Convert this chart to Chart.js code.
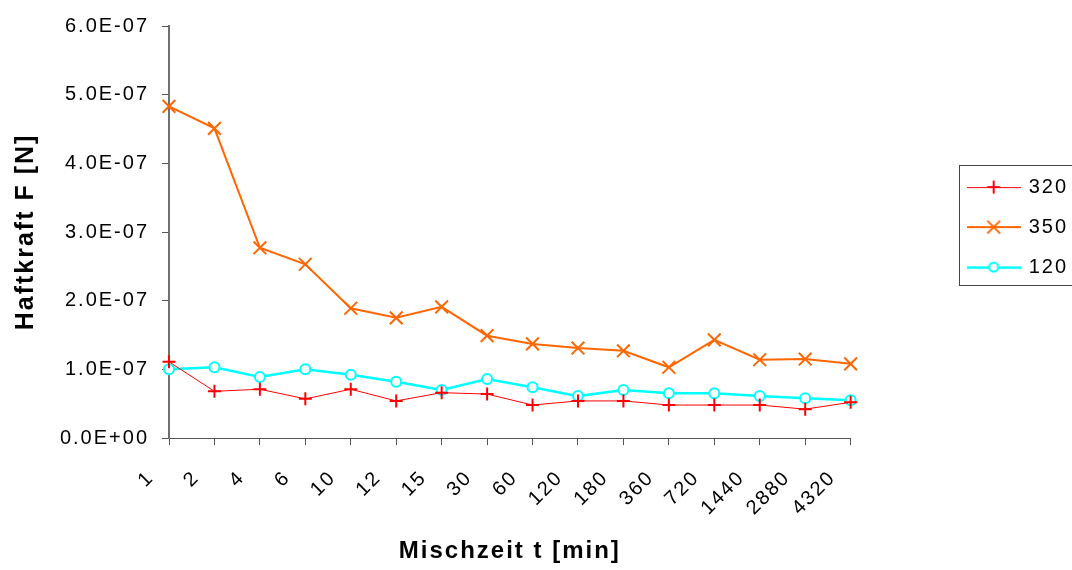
<!DOCTYPE html>
<html>
<head>
<meta charset="utf-8">
<script src="https://cdn.jsdelivr.net/npm/chart.js@4/dist/chart.umd.min.js"></script>
<style>
  html, body { margin: 0; padding: 0; background: #fff; }
  #wrap { width: 1072px; height: 570px; }
</style>
</head>
<body>
<div id="wrap"><canvas id="chart" width="1072" height="570"></canvas></div>
<script>
// Mixing time categories [min]
const categories = ['1', '2', '4', '6', '10', '12', '15', '30', '60', '120', '180', '360', '720', '1440', '2880', '4320'];

// Adhesion force F [N] per series
const haftkraft320 = [1.11e-7, 0.68e-7, 0.71e-7, 0.57e-7, 0.71e-7, 0.54e-7, 0.66e-7, 0.64e-7, 0.48e-7, 0.54e-7, 0.54e-7, 0.48e-7, 0.48e-7, 0.48e-7, 0.42e-7, 0.52e-7];
const haftkraft350 = [4.83e-7, 4.51e-7, 2.77e-7, 2.53e-7, 1.89e-7, 1.75e-7, 1.91e-7, 1.49e-7, 1.37e-7, 1.31e-7, 1.27e-7, 1.03e-7, 1.43e-7, 1.14e-7, 1.15e-7, 1.08e-7];
const haftkraft120 = [1.00e-7, 1.03e-7, 0.89e-7, 1.00e-7, 0.92e-7, 0.82e-7, 0.70e-7, 0.86e-7, 0.74e-7, 0.61e-7, 0.70e-7, 0.65e-7, 0.65e-7, 0.61e-7, 0.58e-7, 0.55e-7];
const seriesNames = ['320', '350', '120'];

// Y axis range
const yMin = 0;
const yMax = 6e-7;
const yStep = 1e-7;

const FONT = "'Liberation Sans', Arial, Helvetica, sans-serif";
const AXIS_COLOR = '#555555';

// Excel-like scientific notation: 6.0E-07, 0.0E+00
function sci(v) {
  const parts = Number(v).toExponential(1).split('e');
  const sign = parts[1][0] === '-' ? '-' : '+';
  const digits = parts[1].replace(/[+-]/, '');
  return parts[0] + 'E' + sign + digits.padStart(2, '0');
}

// Small legend samples: line with marker in the middle
function legendIcon(color, lineWidth, style, r, fill) {
  const c = document.createElement('canvas');
  c.width = 54; c.height = 20;
  const g = c.getContext('2d');
  const cx = 27, cy = 10;
  // odd widths sit on a half pixel so they stay crisp
  const ly = (Math.round(lineWidth) % 2 === 1) ? cy + 0.5 : cy;
  g.strokeStyle = color;
  g.lineWidth = lineWidth;
  g.beginPath(); g.moveTo(0, ly); g.lineTo(54, ly); g.stroke();
  g.lineWidth = 2;
  g.beginPath();
  if (style === 'cross') {
    g.moveTo(cx - r, cy); g.lineTo(cx + r, cy);
    g.moveTo(cx, cy - r); g.lineTo(cx, cy + r);
    g.stroke();
  } else if (style === 'crossRot') {
    const d = r * Math.SQRT1_2;
    g.moveTo(cx - d, cy - d); g.lineTo(cx + d, cy + d);
    g.moveTo(cx + d, cy - d); g.lineTo(cx - d, cy + d);
    g.stroke();
  } else {
    g.arc(cx, cy, r, 0, Math.PI * 2);
    g.fillStyle = fill;
    g.fill();
    g.stroke();
  }
  return c;
}

const legendIcons = [
  legendIcon('#FF0000', 1, 'cross', 6.5),
  legendIcon('#FF6600', 2, 'crossRot', 9),
  legendIcon('#00FFFF', 2.5, 'circle', 4.5, '#ffffff')
];

// Slightly spaced lettering for all chart text
const letterSpacingPlugin = {
  id: 'letterSpacing',
  beforeUpdate(chart) { chart.ctx.letterSpacing = '2px'; },
  beforeDraw(chart) { chart.ctx.letterSpacing = '2px'; }
};

// Frame around the legend (open to the right edge)
const legendFramePlugin = {
  id: 'legendFrame',
  afterDraw(chart) {
    const boxes = chart.legend && chart.legend.legendHitBoxes;
    if (!boxes || !boxes.length) return;
    const first = boxes[0], last = boxes[boxes.length - 1];
    const left = Math.round(first.left - 10) + 0.5;
    const top = Math.round(first.top + first.height / 2 - 22) + 0.5;
    const bottom = Math.round(last.top + last.height / 2 + 18) + 0.5;
    const ctx = chart.ctx;
    ctx.save();
    ctx.strokeStyle = '#444444';
    ctx.lineWidth = 1;
    ctx.strokeRect(left, top, chart.width + 20 - left, bottom - top);
    ctx.restore();
  }
};

new Chart(document.getElementById('chart'), {
  type: 'line',
  data: {
    labels: categories,
    datasets: [
      {
        label: seriesNames[0],
        data: haftkraft320,
        borderColor: '#FF0000',
        backgroundColor: '#FF0000',
        borderWidth: 1,
        pointStyle: 'cross',
        pointRadius: 6.5,
        pointBorderWidth: 2,
        pointBorderColor: '#FF0000',
        tension: 0
      },
      {
        label: seriesNames[1],
        data: haftkraft350,
        borderColor: '#FF6600',
        backgroundColor: '#FF6600',
        borderWidth: 2,
        pointStyle: 'crossRot',
        pointRadius: 9,
        pointBorderWidth: 2,
        pointBorderColor: '#FF6600',
        tension: 0
      },
      {
        label: seriesNames[2],
        data: haftkraft120,
        borderColor: '#00FFFF',
        backgroundColor: '#ffffff',
        borderWidth: 2.5,
        pointStyle: 'circle',
        pointRadius: 5,
        pointBorderWidth: 2,
        pointBorderColor: '#00FFFF',
        pointBackgroundColor: '#ffffff',
        tension: 0
      }
    ]
  },
  options: {
    responsive: false,
    animation: false,
    devicePixelRatio: 1,
    color: '#000000',
    layout: { padding: { top: 26, left: 0, bottom: 0, right: -6 } },
    plugins: {
      tooltip: { enabled: false },
      legend: {
        position: 'right',
        fullSize: false,
        align: 'center',
        // empty header with negative padding lifts the entries a little
        title: {
          display: true,
          text: ' ',
          font: { family: FONT, size: 1 },
          padding: { top: -6, bottom: -5 }
        },
        labels: {
          usePointStyle: true,
          pointStyleWidth: 50,
          padding: 20,
          color: '#000000',
          font: { family: FONT, size: 20 },
          generateLabels(chart) {
            const items = Chart.defaults.plugins.legend.labels.generateLabels(chart);
            items.forEach((it, i) => { it.pointStyle = legendIcons[i]; });
            return items;
          }
        }
      }
    },
    scales: {
      x: {
        type: 'category',
        offset: false,
        afterFit(scale) { scale.height = 132; },
        grid: {
          display: true,
          drawOnChartArea: false,
          drawTicks: true,
          tickLength: 7,
          color: AXIS_COLOR
        },
        border: { display: true, color: AXIS_COLOR, width: 1 },
        ticks: {
          autoSkip: false,
          maxRotation: 45,
          minRotation: 45,
          labelOffset: -18,
          padding: 21,
          color: '#000000',
          font: { family: FONT, size: 20 }
        },
        title: {
          display: true,
          text: 'Mischzeit t [min]',
          color: '#000000',
          font: { family: FONT, size: 24, weight: 'bold' },
          padding: { top: 0, bottom: 4 }
        }
      },
      y: {
        type: 'linear',
        position: 'left',
        min: yMin,
        max: yMax,
        afterFit(scale) { scale.width = 169; },
        grid: {
          display: true,
          drawOnChartArea: false,
          drawTicks: true,
          tickLength: 7,
          color: AXIS_COLOR
        },
        border: { display: true, color: '#707070', width: 2 },
        ticks: {
          stepSize: yStep,
          padding: 13,
          color: '#000000',
          font: { family: FONT, size: 20 },
          callback: (v) => sci(v)
        },
        title: {
          display: true,
          text: 'Haftkraft F [N]',
          color: '#000000',
          font: { family: FONT, size: 25, weight: 'bold' },
          padding: { top: 11, bottom: 0 }
        }
      },
      gap: {
        type: 'linear',
        position: 'right',
        display: true,
        afterFit(scale) { scale.width = 98; },
        grid: { display: false },
        border: { display: false },
        ticks: { display: false }
      }
    }
  },
  plugins: [letterSpacingPlugin, legendFramePlugin]
});
</script>
</body>
</html>
